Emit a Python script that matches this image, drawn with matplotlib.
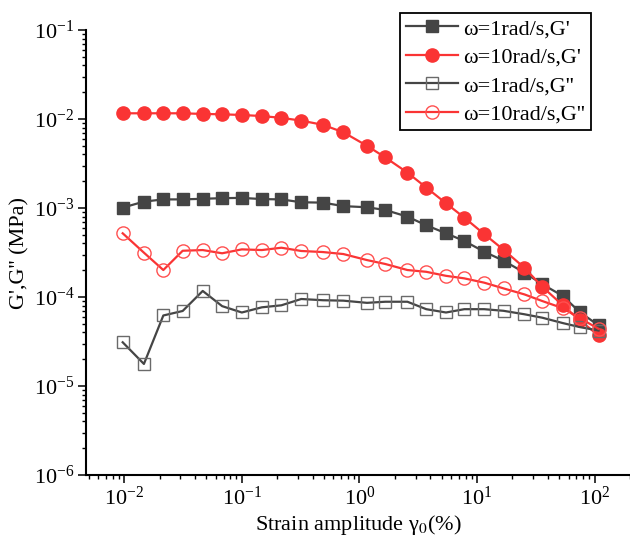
import matplotlib
matplotlib.use("Agg")
from matplotlib import pyplot as plt

plt.rcParams['font.family'] = ['Liberation Serif', 'DejaVu Serif']
plt.rcParams['mathtext.fontset'] = 'stix'

# strain amplitude (%)
strain = [0.0097, 0.0147, 0.0215, 0.0314, 0.0465, 0.068, 0.1, 0.148, 0.217, 0.32,
          0.49, 0.73, 1.16, 1.66, 2.56, 3.7, 5.45, 7.8, 11.5, 16.8,
          25.3, 36, 53.5, 74.5, 108]

# G' and G'' (MPa)
g1_w1 = [0.00101, 0.00118, 0.00125, 0.00125, 0.00127, 0.00129, 0.00130, 0.00126, 0.00125, 0.00116,
         0.00115, 0.00105, 0.00102, 0.00095, 0.00080, 0.00064, 0.00052, 0.000426, 0.000323, 0.000256,
         0.000188, 0.000139, 0.000103, 6.8e-5, 4.8e-5]
g1_w10 = [0.0116, 0.0116, 0.0116, 0.0116, 0.0114, 0.0113, 0.0111, 0.0108, 0.0103, 0.0096,
          0.0086, 0.0071, 0.0050, 0.0037, 0.0025, 0.0017, 0.00113, 0.00078, 0.00051, 0.00034,
          0.000213, 0.00013, 8.1e-5, 5.5e-5, 3.7e-5]
g2_w1 = [3.1e-5, 1.77e-5, 6.2e-5, 6.97e-5, 0.000117, 7.9e-5, 6.7e-5, 7.66e-5, 8.07e-5, 9.5e-5,
         9.2e-5, 9.1e-5, 8.6e-5, 8.85e-5, 8.85e-5, 7.3e-5, 6.7e-5, 7.3e-5, 7.3e-5, 7.0e-5,
         6.4e-5, 5.85e-5, 5.1e-5, 4.6e-5, 4.2e-5]
g2_w10 = [0.00052, 0.000315, 0.000201, 0.000331, 0.000337, 0.00031, 0.000343, 0.000337, 0.000358, 0.000329,
          0.00032, 0.000304, 0.00026, 0.000235, 0.000201, 0.000192, 0.000173, 0.000162, 0.000145, 0.000125,
          0.000107, 9.0e-5, 7.5e-5, 5.8e-5, 4.4e-5]

dark = '#454545'
red = '#fa3434'

fig = plt.figure(figsize=(6.3, 5.42), dpi=100)
ax = fig.add_axes([0.136, 0.1236, 0.864, 0.821])

ax.plot(strain, g1_w1, '-s', color=dark, lw=1.6, ms=8.5, label="ω=1rad/s,G'")
ax.plot(strain, g1_w10, '-o', color=red, lw=1.6, ms=9.5, label="ω=10rad/s,G'")
ax.plot(strain, g2_w1, '-s', color=dark, lw=1.6, ms=8.5, mfc='none', mec='#6a6a6a', mew=1.0,
        label="ω=1rad/s,G''")
ax.plot(strain, g2_w10, '-o', color=red, lw=1.6, ms=9.5, mfc='none', mec='#ff5050', mew=1.0,
        label="ω=10rad/s,G''")

ax.set_xscale('log')
ax.set_yscale('log')
ax.set_xlim(0.0047, 200)
ax.set_ylim(1e-6, 1e-1)

for s in ['top', 'right']:
    ax.spines[s].set_visible(False)
for s in ['left', 'bottom']:
    ax.spines[s].set_linewidth(1.5)

ax.tick_params(which='major', direction='out', length=6, width=1.1, labelsize=16, pad=2)
ax.tick_params(which='minor', direction='out', length=3, width=1.0)

ax.set_xlabel("Strain amplitude γ$_0$(%)", fontsize=16, labelpad=3)
ax.set_ylabel("G',G'' (MPa)", fontsize=16, labelpad=3)

leg = ax.legend(loc='upper right', bbox_to_anchor=(0.938, 0.976), bbox_transform=fig.transFigure,
                borderaxespad=0, fontsize=16, fancybox=False, framealpha=1, edgecolor='black',
                handlelength=2.35, handletextpad=0.25, labelspacing=0.36, numpoints=1,
                borderpad=0.25)
leg.get_frame().set_linewidth(1.3)

fig.savefig('out.png', dpi=100)
